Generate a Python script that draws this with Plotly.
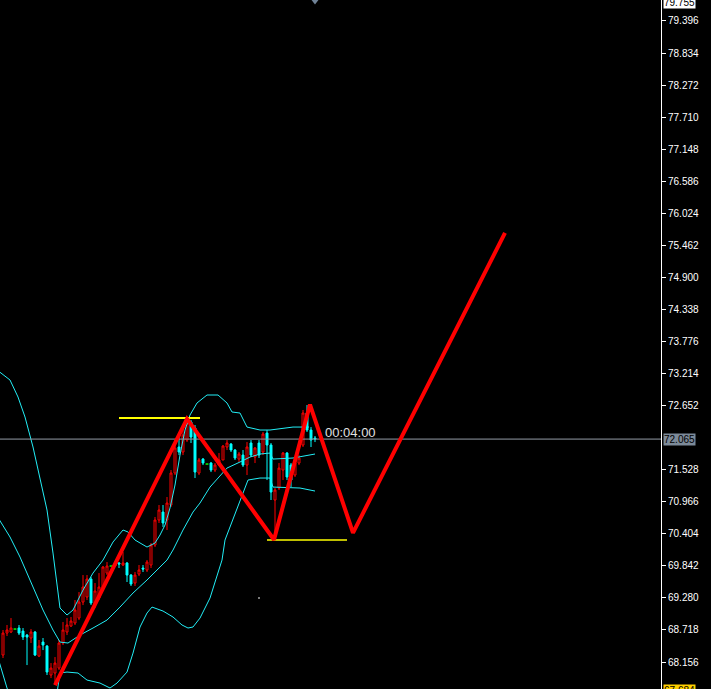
import plotly.graph_objects as go

# ---------------- data ----------------
bar_index = list(range(79))
opens = [68.279, 68.664, 68.682, 68.734, 68.752, 68.699, 68.629, 68.577, 68.682, 68.261,
         68.506, 68.436, 67.928, 67.963, 68.050, 68.489, 68.682, 68.787, 68.840, 68.927,
         69.208, 69.296, 69.611, 69.155, 69.278, 69.471, 69.716, 69.839, 69.839, 69.892,
         69.857, 69.892, 69.681, 69.541, 69.699, 69.804, 69.769, 69.857, 70.208, 70.646,
         70.786, 70.646, 70.909, 71.470, 71.926, 71.838, 72.048, 72.364, 72.259, 71.470,
         71.715, 71.627, 71.645, 71.522, 71.610, 71.698, 71.926, 71.978, 71.873, 71.715,
         71.785, 71.610, 71.996, 71.750, 71.996, 71.838, 72.171, 71.961, 70.997, 71.207,
         71.522, 71.820, 71.610, 71.435, 71.645, 71.961, 72.522, 72.224, 72.083]
highs = [68.717, 68.805, 68.927, 68.752, 68.805, 68.752, 68.647, 68.734, 68.699, 68.542,
         68.577, 68.454, 68.138, 68.243, 68.542, 68.857, 68.927, 68.945, 69.243, 69.383,
         69.681, 69.681, 69.646, 69.541, 69.716, 69.839, 69.909, 69.857, 69.909, 69.909,
         70.085, 69.909, 69.699, 69.734, 69.857, 69.857, 69.944, 70.243, 70.699, 70.909,
         70.909, 71.049, 71.522, 72.048, 72.101, 72.276, 72.434, 72.399, 72.311, 71.733,
         71.733, 71.645, 71.663, 71.645, 71.820, 71.961, 72.048, 71.996, 71.890, 71.838,
         71.873, 72.013, 72.048, 71.926, 72.048, 72.189, 72.224, 71.996, 71.207, 71.645,
         71.838, 71.838, 71.645, 71.750, 71.785, 72.575, 72.662, 72.276, 72.119]
lows = [68.226, 68.612, 68.664, 68.717, 68.629, 68.542, 68.103, 68.489, 68.261, 68.243,
        68.366, 67.928, 67.875, 67.752, 68.015, 68.454, 68.629, 68.770, 68.805, 68.892,
        69.155, 69.243, 69.155, 69.103, 69.243, 69.453, 69.681, 69.822, 69.822, 69.804,
        69.839, 69.559, 69.489, 69.489, 69.664, 69.734, 69.734, 69.804, 70.172, 70.594,
        70.524, 70.471, 70.874, 71.435, 71.785, 71.785, 72.013, 71.996, 71.382, 71.435,
        71.610, 71.610, 71.487, 71.487, 71.610, 71.698, 71.873, 71.838, 71.698, 71.663,
        71.575, 71.435, 71.750, 71.645, 71.733, 71.785, 71.347, 70.997, 70.348, 71.172,
        71.347, 71.347, 71.224, 71.400, 71.610, 71.926, 72.189, 71.926, 72.013]
closes = [68.664, 68.717, 68.752, 68.734, 68.664, 68.594, 68.594, 68.682, 68.279, 68.436,
          68.454, 67.980, 68.050, 68.138, 68.489, 68.717, 68.805, 68.875, 69.068, 69.208,
          69.471, 69.611, 69.190, 69.401, 69.471, 69.822, 69.839, 69.839, 69.874, 69.874,
          69.892, 69.681, 69.524, 69.681, 69.769, 69.786, 69.909, 70.208, 70.646, 70.821,
          70.594, 70.944, 71.470, 71.908, 71.838, 72.136, 72.346, 72.101, 71.487, 71.698,
          71.645, 71.627, 71.522, 71.610, 71.698, 71.943, 71.996, 71.873, 71.733, 71.803,
          71.610, 71.926, 71.785, 71.908, 71.785, 72.154, 71.961, 71.137, 71.172, 71.557,
          71.820, 71.400, 71.347, 71.645, 71.733, 72.522, 72.224, 72.048, 72.066]

# Bollinger bands (sampled)
upper_x = [-1, 1.75, 3.75, 5.5, 7.5, 9.25, 11, 12.5, 13.5, 14.25, 16, 17.5, 20, 22.5, 25,
           27.5, 30, 31.25, 33, 36, 38, 39.25, 40.5, 41.75, 43, 44.25, 45.5, 46.75, 48.5,
           51, 53.75, 56, 57.25, 59.25, 61, 64.25, 66.75, 72.5, 76.5]
upper_y = [73.25, 73.101, 72.803, 72.452, 71.926, 71.400, 70.821, 70.067, 69.471, 69.103,
           68.980, 69.068, 69.418, 69.716, 69.944, 70.260, 70.471, 70.436, 70.295, 70.172,
           70.243, 70.383, 70.558, 70.857, 71.260, 71.785, 72.224, 72.487, 72.698, 72.838,
           72.838, 72.698, 72.540, 72.522, 72.276, 72.224, 72.224, 72.276, 72.276]
mid_x = [-1, 1.75, 4.25, 7.5, 10, 12.5, 14.25, 16.25, 19.25, 22.5, 26, 29.25, 32.5, 36,
         38.5, 41, 42.5, 45, 47.5, 49.25, 51.75, 56, 59.25, 61.75, 64.25, 66.75, 67.5,
         72.5, 78]
mid_y = [70.66, 70.348, 69.997, 69.471, 69.068, 68.717, 68.506, 68.489, 68.629, 68.752,
         68.892, 69.120, 69.366, 69.594, 69.769, 69.944, 70.120, 70.471, 70.786, 70.944,
         71.224, 71.557, 71.663, 71.750, 71.803, 71.820, 71.715, 71.733, 71.803]
low_x = [-1, 1, 4.25, 7.5, 11, 13.5, 14.25, 16, 18.75, 21, 24.25, 26.75, 28.5, 31, 32.5,
         34.25, 36, 37.25, 40, 42.5, 44.75, 46.25, 47.5, 49.25, 51.75, 54.75, 55.5, 56.75,
         58, 59.25, 60.5, 61.25, 64.25, 66.75, 67.5, 74.25, 78]
low_y = [68.17, 67.700, 67.192, 67.016, 67.069, 67.612, 67.963, 67.980, 67.963, 67.840,
         67.787, 67.700, 67.787, 67.980, 68.313, 68.770, 69.015, 69.120, 69.050, 68.945,
         68.805, 68.752, 68.770, 68.927, 69.278, 69.944, 70.295, 70.524, 70.769, 70.997,
         71.224, 71.347, 71.382, 71.382, 71.224, 71.207, 71.154]

# ZigZag projection
zigzag_x = [13, 46, 67.75, 76.75, 87.5, 125.5]
zigzag_y = [67.752, 72.42, 70.30, 72.67, 70.42, 75.68]

# horizontal yellow levels
level_hi_x = [29, 49.25]
level_hi_y = 72.434
level_lo_x = [66, 86]
level_lo_y = 70.295

bid_price = 72.065
bid_label = "72.065"
top_label = "79.755"
bottom_label = "67.684"
timer_text = "00:04:00"
timer_pos = (80.0, 72.189)
dot_pos = (64, 69.278)
shift_marker_x = 78

tick_vals = [79.396, 78.834, 78.272, 77.710, 77.148, 76.586, 76.024, 75.462, 74.900,
             74.338, 73.776, 73.214, 72.652, 71.528, 70.966, 70.404, 69.842, 69.280,
             68.718, 68.156]
tick_text = ["79.396", "78.834", "78.272", "77.710", "77.148", "76.586", "76.024",
             "75.462", "74.900", "74.338", "73.776", "73.214", "72.652", "71.528",
             "70.966", "70.404", "69.842", "69.280", "68.718", "68.156"]

y_range = [67.683, 79.764]
x_range = [-0.75, 164.5]

# ---------------- figure ----------------
fig = go.Figure()

doji = [i for i in bar_index if abs(opens[i] - closes[i]) < 1e-9]
normal = [i for i in bar_index if i not in doji]

# bands
for bx, by in ((upper_x, upper_y), (mid_x, mid_y), (low_x, low_y)):
    fig.add_trace(go.Scatter(x=bx, y=by, mode="lines",
                             line=dict(color="#22eef6", width=1), hoverinfo="skip"))

# bid line
fig.add_trace(go.Scatter(x=[x_range[0], x_range[1]], y=[bid_price, bid_price], mode="lines",
                         line=dict(color="#939ca6", width=1), hoverinfo="skip"))

fig.add_trace(go.Candlestick(
    x=[bar_index[i] for i in normal],
    open=[opens[i] for i in normal], high=[highs[i] for i in normal],
    low=[lows[i] for i in normal], close=[closes[i] for i in normal],
    increasing=dict(line=dict(color="#ff0000", width=1), fillcolor="#000000"),
    decreasing=dict(line=dict(color="#00ffff", width=1), fillcolor="#00ffff"),
    whiskerwidth=0, hoverinfo="skip"))

# doji bars
dx, dy = [], []
for i in doji:
    dx += [bar_index[i], bar_index[i], None, bar_index[i] - 0.4, bar_index[i] + 0.4, None]
    dy += [lows[i], highs[i], None, opens[i], opens[i], None]
fig.add_trace(go.Scatter(x=dx, y=dy, mode="lines", line=dict(color="#00ff00", width=1),
                         hoverinfo="skip"))

# yellow levels
fig.add_trace(go.Scatter(x=level_hi_x, y=[level_hi_y] * 2, mode="lines",
                         line=dict(color="#ffff00", width=2), hoverinfo="skip"))
fig.add_trace(go.Scatter(x=level_lo_x, y=[level_lo_y] * 2, mode="lines",
                         line=dict(color="#ffff00", width=1.5), hoverinfo="skip"))

# zigzag
fig.add_trace(go.Scatter(x=zigzag_x, y=zigzag_y, mode="lines",
                         line=dict(color="#ff0000", width=4), hoverinfo="skip"))

# small dot
fig.add_trace(go.Scatter(x=[dot_pos[0]], y=[dot_pos[1]], mode="markers",
                         marker=dict(color="#a0a0a0", size=2), hoverinfo="skip"))

# chart-shift marker
fig.add_trace(go.Scatter(x=[shift_marker_x], y=[y_range[1]], mode="markers",
                         marker=dict(symbol="triangle-down", color="#6f8296", size=9),
                         cliponaxis=False, hoverinfo="skip"))

fig.add_annotation(x=timer_pos[0], y=timer_pos[1], text=timer_text, showarrow=False,
                   xanchor="left", yanchor="middle",
                   font=dict(family="Liberation Sans, Arial", size=13, color="#e0e0e0"))

for txt, yv, bg, ypaper in ((bid_label, bid_price, "#7c8a99", None),
                            (top_label, None, "#ffffff", 1),
                            (bottom_label, None, "#ffd000", 0)):
    if ypaper is None:
        fig.add_annotation(xref="paper", x=1, y=yv, yref="y", text=txt, showarrow=False,
                           xanchor="left", yanchor="middle", xshift=2, bgcolor=bg,
                           borderpad=0,
                           font=dict(family="Liberation Sans, Arial", size=10, color="#000000"))
    else:
        fig.add_annotation(xref="paper", x=1, yref="paper", y=ypaper, text=txt,
                           showarrow=False, xanchor="left", yanchor="middle", xshift=2,
                           yshift=(-2 if ypaper == 1 else -1),
                           bgcolor=bg, borderpad=0,
                           font=dict(family="Liberation Sans, Arial", size=10, color="#000000"))

fig.update_layout(
    width=711, height=689,
    margin=dict(l=0, r=50, t=0, b=0),
    paper_bgcolor="#000000", plot_bgcolor="#000000",
    showlegend=False,
    xaxis=dict(range=x_range, visible=False, rangeslider=dict(visible=False),
               showgrid=False, zeroline=False, fixedrange=True),
    yaxis=dict(range=y_range, side="right", showgrid=False, zeroline=False,
               showline=True, linecolor="#ffffff", linewidth=1,
               ticks="outside", ticklen=4, tickcolor="#ffffff", tickwidth=1,
               tickvals=tick_vals, ticktext=tick_text,
               tickfont=dict(family="Liberation Sans, Arial", size=10, color="#ffffff"),
               fixedrange=True),
)

fig.write_html("out.html")
